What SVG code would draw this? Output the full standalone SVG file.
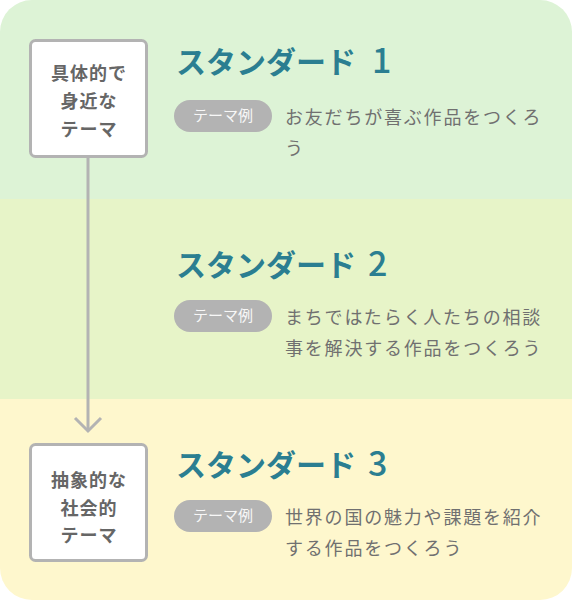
<svg xmlns="http://www.w3.org/2000/svg" width="572" height="600" viewBox="0 0 572 600">
<defs>
<clipPath id="bgclip"><rect x="0" y="0" width="572" height="600" rx="32" ry="32"/></clipPath>
<style>
.title{font-family:"Noto Sans CJK JP","Noto Sans",sans-serif;font-weight:700;font-size:30px;fill:#2b7e91;}
.pill{fill:#b3b3b3;}
.pilltxt{font-family:"Noto Sans CJK JP",sans-serif;font-size:15px;fill:#f7f7f7;text-anchor:middle;}
.desc{font-family:"Noto Sans CJK JP",sans-serif;font-size:18px;fill:#707070;letter-spacing:1.8px;}
.box{fill:#ffffff;stroke:#b3b3b3;stroke-width:3;}
.boxtxt{font-family:"Noto Sans CJK JP",sans-serif;font-weight:700;font-size:18px;fill:#666666;text-anchor:middle;letter-spacing:1px;}
.conn{fill:none;stroke:#b3b3b3;stroke-width:3;}
</style>
</defs>
<g id="background" clip-path="url(#bgclip)">
<rect x="0" y="0" width="572" height="199" fill="#ddf3d6"/>
<rect x="0" y="199" width="572" height="200" fill="#e7f4c8"/>
<rect x="0" y="399" width="572" height="201" fill="#fef7cd"/>
</g>
<g id="connectors">
<line class="conn" x1="88" y1="158" x2="88" y2="431"/>
<polyline class="conn" points="75,418 88,431 101,418"/>
</g>
<g id="node-concrete">
<rect class="box" x="30.5" y="40.5" width="116" height="116" rx="5"/>
<text class="boxtxt" x="89" y="80">具体的で</text>
<text class="boxtxt" x="89" y="108">身近な</text>
<text class="boxtxt" x="89" y="136">テーマ</text>
</g>
<g id="node-abstract">
<rect class="box" x="30.5" y="444.5" width="116" height="116" rx="5"/>
<text class="boxtxt" x="89" y="487">抽象的な</text>
<text class="boxtxt" x="89" y="515">社会的</text>
<text class="boxtxt" x="89" y="542">テーマ</text>
</g>
<g id="standard-1">
<text class="title" x="176" y="73">スタンダード <tspan x="372" font-size="34" font-weight="500">1</tspan></text>
<rect class="pill" x="174" y="100" width="98" height="32" rx="16"/>
<text class="pilltxt" x="223" y="121">テーマ例</text>
<text class="desc" x="285" y="124">お友だちが喜ぶ作品をつくろ</text>
<text class="desc" x="285" y="155">う</text>
</g>
<g id="standard-2">
<text class="title" x="176" y="276">スタンダード <tspan x="368" font-size="34" font-weight="500">2</tspan></text>
<rect class="pill" x="174" y="300" width="98" height="32" rx="16"/>
<text class="pilltxt" x="223" y="321">テーマ例</text>
<text class="desc" x="285" y="324">まちではたらく人たちの相談</text>
<text class="desc" x="285" y="355">事を解決する作品をつくろう</text>
</g>
<g id="standard-3">
<text class="title" x="176" y="476">スタンダード <tspan x="368" font-size="34" font-weight="500">3</tspan></text>
<rect class="pill" x="174" y="500" width="98" height="32" rx="16"/>
<text class="pilltxt" x="223" y="521">テーマ例</text>
<text class="desc" x="285" y="524">世界の国の魅力や課題を紹介</text>
<text class="desc" x="285" y="555">する作品をつくろう</text>
</g>
</svg>
